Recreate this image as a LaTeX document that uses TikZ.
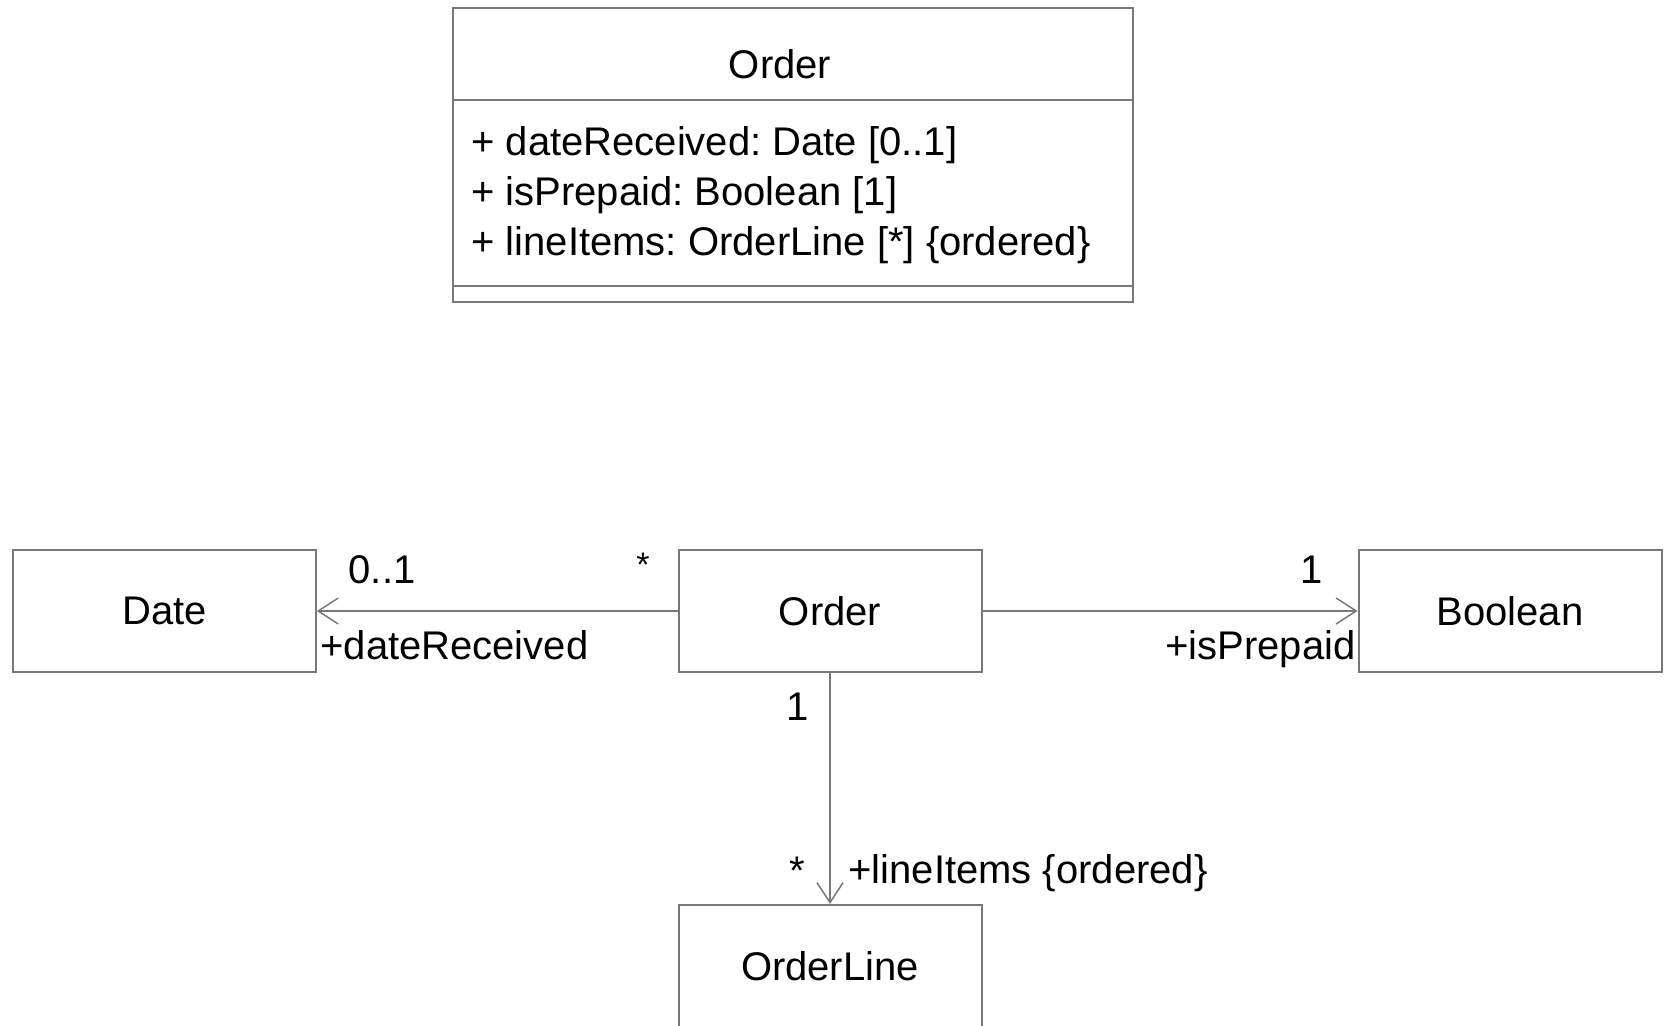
\documentclass[tikz,border=0pt]{standalone}
\usepackage{fontspec}
\setmainfont{Liberation Sans}
\usetikzlibrary{arrows.meta, positioning}
\definecolor{umlline}{RGB}{120, 120, 120}

\begin{document}
\frenchspacing
\begin{tikzpicture}[
    x=0.5pt, y=-0.5pt,
    font=\fontsize{20pt}{25pt}\selectfont,
    class/.style={draw=umlline, line width=1pt, fill=white, minimum width=151.5pt, minimum height=61pt, inner sep=0pt},
    classpart/.style={draw=umlline, line width=1pt, minimum width=340pt, inner sep=0pt, outer sep=0pt},
    assoc/.style={draw=umlline, line width=0.75pt, -{Straight Barb[length=10pt, width=13pt]}},
    label/.style={inner sep=0pt, anchor=base}
]
    \useasboundingbox (0,0) rectangle (1668,1026);

    % Class with its attributes
    \node[classpart, minimum height=46pt] (ordername) at (792.7, 54) {};
    \node[classpart, minimum height=93pt, below=0pt of ordername] (orderattrs) {};
    \node[classpart, minimum height=8pt, below=0pt of orderattrs] (orderops) {};
    \node[label] (ordertitle) at (780, 79) {Order};
    \node[label, anchor=base west] (attrdate) at (471, 156) {+ dateReceived: Date [0..1]};
    \node[label, anchor=base west] (attrprepaid) at (471, 206) {+ isPrepaid: Boolean [1]};
    \node[label, anchor=base west] (attritems) at (471, 256) {+ lineItems: OrderLine [*] \{ordered\}};

    % Classes
    \node[class] (date) at (164.4, 611) {Date};
    \node[class] (order) at (830, 611) {Order};
    \node[class] (boolean) at (1510, 611) {Boolean};
    \node[class] (orderline) at (830, 966) {OrderLine};

    % Associations
    \draw[assoc] (order) -- (date);
    \draw[assoc] (order) -- (boolean);
    \draw[assoc] (order) -- (orderline);

    % Multiplicities and roles
    \node[label] (datemult) at (382, 583) {0..1};
    \node[label, scale=0.85] (orderstar) at (643, 576) {*};
    \node[label, anchor=base west] (daterole) at (320, 659) {+dateReceived};
    \node[label] (boolmult) at (1312, 583) {1};
    \node[label, anchor=base east] (boolrole) at (1356, 659) {+isPrepaid};
    \node[label] (ordermult) at (798, 720) {1};
    \node[label] (linestar) at (797, 884) {*};
    \node[label, anchor=base west] (linerole) at (848, 883) {+lineItems \{ordered\}};
\end{tikzpicture}
\end{document}
